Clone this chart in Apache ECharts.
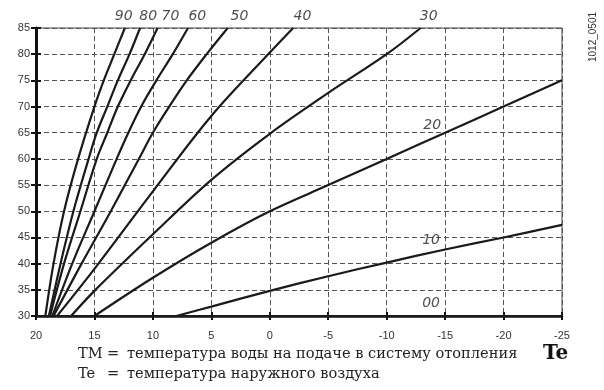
<!DOCTYPE html>
<html>
<head>
<meta charset="UTF-8">
<title>Отопительные кривые</title>
<script src="https://cdn.jsdelivr.net/npm/echarts@6/dist/echarts.min.js"></script>
<style>
  html, body { margin: 0; padding: 0; background: #fff; }
  #chart { width: 604px; height: 390px; }
</style>
</head>
<body>
<div id="chart"></div>
<script>
// heating curves: [Te, TM]
const curve90 = [[19.2, 30], [18.5, 40], [17.6, 50], [16.4, 60], [15.0, 70], [14.2, 75], [13.3, 80], [12.4, 85]];
const curve80 = [[18.9, 30], [17.9, 40], [16.8, 50], [15.5, 60], [14.8, 65], [13.9, 70], [13.0, 75], [12.0, 80], [11.1, 85]];
const curve70 = [[18.8, 30], [17.6, 40], [16.2, 50], [14.8, 60], [13.9, 65], [13.0, 70], [11.9, 75], [10.7, 80], [9.6, 85]];
const curve60 = [[18.6, 30], [16.9, 40], [15.0, 50], [13.1, 60], [12.1, 65], [11.0, 70], [9.7, 75], [8.3, 80], [7.0, 85]];
const curve50 = [[18.5, 30], [16.1, 40], [13.6, 50], [11.2, 60], [10.0, 65], [8.6, 70], [7.1, 75], [5.4, 80], [3.6, 85]];
const curve40 = [[18.2, 30], [15, 39], [10, 53.8], [5, 68.2], [0, 80.3], [-2, 85]];
const curve30 = [[17, 30], [15, 34.8], [10, 45.6], [5, 56], [0, 64.8], [-5, 72.6], [-10, 80], [-12.9, 85]];
const curve20 = [[15, 30], [10, 37.3], [5, 44], [0, 50], [-5, 55], [-10, 60], [-15, 65], [-20, 70], [-25, 75]];
const curve10 = [[8, 30], [5, 31.8], [0, 34.8], [-5, 37.6], [-10, 40.2], [-15, 42.7], [-20, 45], [-25, 47.4]];
const curve00 = [[20, 30], [-25, 30]];

// curve labels: [Te, TM, text]
const curveLabels = [
  [12.5, 87.3, '90'], [10.4, 87.3, '80'], [8.5, 87.3, '70'], [6.2, 87.3, '60'],
  [2.6, 87.3, '50'], [-2.8, 87.3, '40'], [-13.6, 87.3, '30'],
  [-13.9, 66.5, '20'], [-13.8, 44.5, '10'], [-13.8, 32.5, '00']
];

const chart = echarts.init(document.getElementById('chart'));

const curves = [curve90, curve80, curve70, curve60, curve50, curve40, curve30, curve20, curve10, curve00];

const dashGrid = { show: true, lineStyle: { color: '#555', type: [5, 3], width: 1 } };
const tickLabel = { color: '#333', fontSize: 11, fontFamily: 'Liberation Sans' };
const serif = { fontFamily: 'DejaVu Serif', fontSize: 14.6, fill: '#222' };

const option = {
  animation: false,
  grid: { left: 36, right: 42, top: 28, bottom: 74, show: true, borderColor: '#444', borderWidth: 1 },
  xAxis: [
    {
      type: 'value', min: -25, max: 20, interval: 5, inverse: true,
      axisLine: { show: true, onZero: false, lineStyle: { color: '#111', width: 2.5 } },
      axisTick: { show: true, length: 4, lineStyle: { color: '#111', width: 2 } },
      axisLabel: Object.assign({ margin: 14 }, tickLabel),
      splitLine: dashGrid
    },
    {
      type: 'value', min: -25, max: 20, interval: 5, inverse: true, position: 'bottom',
      axisLine: { show: false, onZero: false },
      axisTick: { show: true, inside: true, length: 4, lineStyle: { color: '#111', width: 2 } },
      axisLabel: { show: false }, splitLine: { show: false }
    }
  ],
  yAxis: [
    {
      type: 'value', min: 30, max: 85, interval: 5,
      axisLine: { show: true, onZero: false, lineStyle: { color: '#111', width: 3 } },
      axisTick: { show: true, length: 5, lineStyle: { color: '#111', width: 2 } },
      axisLabel: Object.assign({ margin: 6 }, tickLabel),
      splitLine: dashGrid
    },
    {
      type: 'value', min: 30, max: 85, interval: 5, position: 'left',
      axisLine: { show: false, onZero: false },
      axisTick: { show: true, inside: true, length: 5, lineStyle: { color: '#111', width: 2 } },
      axisLabel: { show: false }, splitLine: { show: false }
    }
  ],
  series: curves.map(c => ({
    type: 'line', data: c, symbol: 'none', smooth: 0.35,
    lineStyle: { color: '#1a1a1a', width: 2.2 }
  })).concat([{
    type: 'scatter', data: curveLabels, symbolSize: 0, clip: false, silent: true,
    label: {
      show: true, position: 'inside', formatter: p => p.value[2],
      fontStyle: 'italic', fontSize: 14, color: '#222', fontFamily: 'DejaVu Sans'
    }
  }]),
  graphic: [
    { type: 'text', left: 78, top: 347, style: Object.assign({ text: 'TM' }, serif) },
    { type: 'text', left: 107, top: 347, style: Object.assign({ text: '=' }, serif) },
    { type: 'text', left: 127, top: 347, style: Object.assign({ text: 'температура воды на подаче в систему отопления' }, serif) },
    { type: 'text', left: 78, top: 367, style: Object.assign({ text: 'Te' }, serif) },
    { type: 'text', left: 107, top: 367, style: Object.assign({ text: '=' }, serif) },
    { type: 'text', left: 127, top: 367, style: Object.assign({ text: 'температура наружного воздуха' }, serif) },
    { type: 'text', left: 543, top: 344, style: { text: 'Te', fontFamily: 'DejaVu Serif', fontSize: 20, fontWeight: 'bold', fill: '#111' } },
    { type: 'text', x: 588, y: 62, rotation: Math.PI / 2, style: { text: '1012_0501', fontFamily: 'Liberation Sans', fontSize: 10, fill: '#333' } }
  ]
};

chart.setOption(option);
</script>
</body>
</html>
